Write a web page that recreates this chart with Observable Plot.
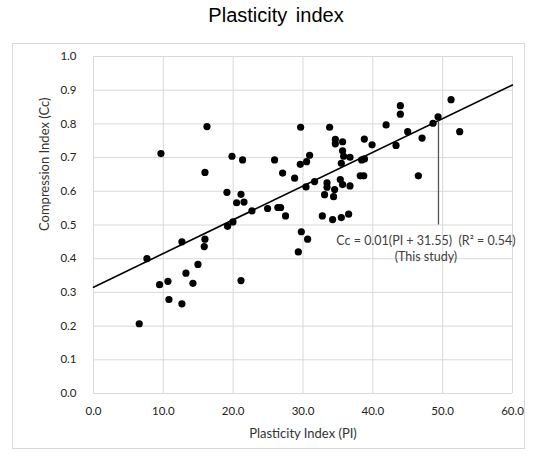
<!DOCTYPE html>
<html>
<head>
<meta charset="utf-8">
<script src="https://cdn.jsdelivr.net/npm/d3@7"></script>
<script src="https://cdn.jsdelivr.net/npm/@observablehq/plot@0.6"></script>
<style>
  html, body { margin: 0; padding: 0; background: #fff; }
  #wrap { position: relative; width: 537px; height: 459px; overflow: hidden; }
  #box { position: absolute; left: 12px; top: 43px; width: 513px; height: 406px; border: 1px solid #d9d9d9; box-sizing: border-box; }
  #title { position: absolute; left: 0; top: 4px; width: 552px; text-align: center; font: 20px "Liberation Sans", Arial, sans-serif; word-spacing: 3px; color: #000; }
  #chart { position: absolute; left: 0; top: 0; }
</style>
</head>
<body>
<div id="wrap">
  <div id="box"></div>
  <div id="title">Plasticity index</div>
  <div id="chart"></div>
</div>
<script>
// Data
const plasticityIndex = [
  16.25, 9.66, 19.83, 21.35, 15.96, 19.11, 21.12, 20.49, 21.55, 22.69,
  19.97, 19.2, 12.66, 15.96, 15.86, 7.65, 14.96, 13.24, 10.66, 9.46,
  14.24, 21.12, 10.8, 12.66, 6.55,
  29.66, 33.81, 34.63, 34.63, 35.67, 38.78, 39.89, 35.67, 30.95, 35.82,
  36.73, 25.93, 30.52, 29.61, 35.49, 38.4, 38.8, 27.08, 28.8, 31.66,
  30.43, 33.44, 35.34, 35.67, 36.73, 33.44, 34.53, 38.2, 38.7, 33.09,
  34.38, 24.93, 26.4, 26.8, 27.5, 32.77, 34.24, 35.49, 36.53, 29.76,
  30.66, 29.33,
  51.2, 43.94, 43.94, 41.9, 49.34, 48.62, 44.99, 52.44, 47.05, 43.32, 46.52
];
const compressionIndex = [
  0.792, 0.712, 0.704, 0.693, 0.656, 0.597, 0.591, 0.566, 0.568, 0.542,
  0.509, 0.496, 0.450, 0.458, 0.436, 0.400, 0.383, 0.357, 0.333, 0.323,
  0.327, 0.335, 0.279, 0.266, 0.207,
  0.790, 0.790, 0.754, 0.741, 0.747, 0.755, 0.738, 0.720, 0.707, 0.704,
  0.701, 0.693, 0.688, 0.680, 0.683, 0.693, 0.696, 0.654, 0.639, 0.629,
  0.613, 0.625, 0.635, 0.620, 0.616, 0.612, 0.605, 0.646, 0.646, 0.590,
  0.584, 0.549, 0.552, 0.552, 0.527, 0.527, 0.516, 0.522, 0.532, 0.480,
  0.458, 0.420,
  0.872, 0.854, 0.829, 0.797, 0.821, 0.802, 0.777, 0.777, 0.758, 0.736, 0.646
];
const xTicks = [0, 10, 20, 30, 40, 50, 60];
const yTicks = [0, 0.1, 0.2, 0.3, 0.4, 0.5, 0.6, 0.7, 0.8, 0.9, 1.0];
// Regression: Cc = 0.01 (PI + 31.55)
const fitSlope = 0.01;
const fitOffset = 31.55;
const fitRange = [0, 60];
const markerPI = 49.4;
const markerBottom = 0.5;
const eqLabel = "Cc = 0.01(PI + 31.55)  (R² = 0.54)";
const studyLabel = "(This study)";
const labelPI = 47.6;
const labelY = [0.452, 0.405];

const fit = pi => fitSlope * (pi + fitOffset);
const points = plasticityIndex.map((x, i) => ({x, y: compressionIndex[i]}));
const fitLine = fitRange.map(x => ({x, y: fit(x)}));

const font = "Lato, 'Open Sans', sans-serif";

const plot = Plot.plot({
  width: 537,
  height: 459,
  marginLeft: 93,
  marginRight: 25,
  marginTop: 56,
  marginBottom: 66,
  style: {fontFamily: font, fontSize: "11.5px", color: "#222", background: "transparent"},
  x: {domain: [0, 60], ticks: xTicks, tickFormat: d3.format(".1f"), tickSize: 0, tickPadding: 13, label: null},
  y: {domain: [0, 1], ticks: yTicks, tickFormat: d3.format(".1f"), tickSize: 0, tickPadding: 17, label: null},
  marks: [
    Plot.gridX(xTicks, {stroke: "#d9d9d9", strokeOpacity: 1, strokeWidth: 1}),
    Plot.gridY(yTicks, {stroke: "#d9d9d9", strokeOpacity: 1, strokeWidth: 1}),
    Plot.axisX({ticks: xTicks, tickFormat: d3.format(".1f"), tickSize: 0, tickPadding: 13, fontSize: 11.5, fill: "#222"}),
    Plot.axisY({ticks: yTicks, tickFormat: d3.format(".1f"), tickSize: 0, tickPadding: 17, fontSize: 11.5, fill: "#222"}),
    Plot.line(fitLine, {x: "x", y: "y", stroke: "#000", strokeWidth: 1.6}),
    Plot.ruleX([markerPI], {y1: markerBottom, y2: fit(markerPI), stroke: "#555", strokeWidth: 1.3}),
    Plot.dot(points, {x: "x", y: "y", r: 3.6, fill: "#000", stroke: "none"}),
    Plot.text([eqLabel], {x: labelPI, y: labelY[0], fontSize: 12.5, fill: "#404040", fontFamily: font}),
    Plot.text([studyLabel], {x: labelPI, y: labelY[1], fontSize: 12.5, fill: "#404040", fontFamily: font}),
    Plot.text(["Plasticity Index (PI)"], {frameAnchor: "bottom", dy: 44, dx: 0, fontSize: 13, fill: "#333", fontFamily: font}),
    Plot.text(["Compression Index (Cc)"], {frameAnchor: "left", dx: -49, dy: 6, rotate: -90, fontSize: 13, fill: "#333", fontFamily: font})
  ]
});
document.getElementById("chart").appendChild(plot);
</script>
</body>
</html>
